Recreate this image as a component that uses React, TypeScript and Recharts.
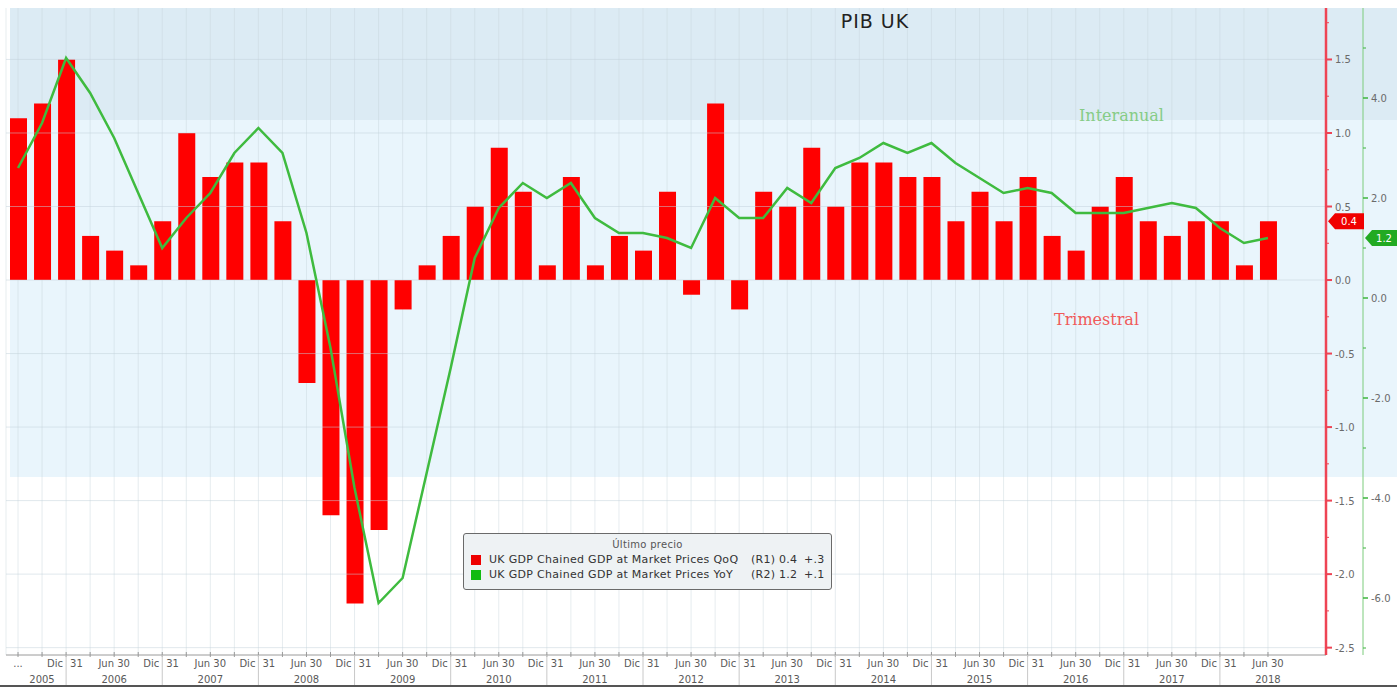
import { ComposedChart, Bar, Line, XAxis, YAxis, ReferenceLine, CartesianGrid } from "recharts"

// quarter-end dates, Jun 2005 .. Jun 2018
const periods = [
  "2005-06", "2005-09", "2005-12",
  "2006-03", "2006-06", "2006-09", "2006-12",
  "2007-03", "2007-06", "2007-09", "2007-12",
  "2008-03", "2008-06", "2008-09", "2008-12",
  "2009-03", "2009-06", "2009-09", "2009-12",
  "2010-03", "2010-06", "2010-09", "2010-12",
  "2011-03", "2011-06", "2011-09", "2011-12",
  "2012-03", "2012-06", "2012-09", "2012-12",
  "2013-03", "2013-06", "2013-09", "2013-12",
  "2014-03", "2014-06", "2014-09", "2014-12",
  "2015-03", "2015-06", "2015-09", "2015-12",
  "2016-03", "2016-06", "2016-09", "2016-12",
  "2017-03", "2017-06", "2017-09", "2017-12",
  "2018-03", "2018-06",
]

// QoQ (R1)
const qoq = [
  1.1, 1.2, 1.5,
  0.3, 0.2, 0.1, 0.4,
  1.0, 0.7, 0.8, 0.8,
  0.4, -0.7, -1.6, -2.2,
  -1.7, -0.2, 0.1, 0.3,
  0.5, 0.9, 0.6, 0.1,
  0.7, 0.1, 0.3, 0.2,
  0.6, -0.1, 1.2, -0.2,
  0.6, 0.5, 0.9, 0.5,
  0.8, 0.8, 0.7, 0.7,
  0.4, 0.6, 0.4, 0.7,
  0.3, 0.2, 0.5, 0.7,
  0.4, 0.3, 0.4, 0.4,
  0.1, 0.4,
]

// YoY (R2)
const yoy = [
  2.6, 3.5, 4.8,
  4.1, 3.2, 2.1, 1.0,
  1.6, 2.1, 2.9, 3.4,
  2.9, 1.3, -1.0, -3.8,
  -6.1, -5.6, -3.5, -1.4,
  0.8, 1.8, 2.3, 2.0,
  2.3, 1.6, 1.3, 1.3,
  1.2, 1.0, 2.0, 1.6,
  1.6, 2.2, 1.9, 2.6,
  2.8, 3.1, 2.9, 3.1,
  2.7, 2.4, 2.1, 2.2,
  2.1, 1.7, 1.7, 1.7,
  1.8, 1.9, 1.8, 1.4,
  1.1, 1.2,
]

const r1Major = [-2.5, -2, -1.5, -1, -0.5, 0, 0.5, 1, 1.5]
const r1Minor = [-2.25, -1.75, -1.25, -0.75, -0.25, 0.25, 0.75, 1.25, 1.75]
const r2Major = [-6, -4, -2, 0, 2, 4]
const r2Minor = [-7, -5, -3, -1, 1, 3, 5]

const lastQoQ = 0.4
const lastYoY = 1.2

const legendRows = [
  { color: "#ee0000", name: "UK GDP Chained GDP at Market Prices QoQ", axis: "(R1)", last: "0.4", chg: "+.3" },
  { color: "#11bb11", name: "UK GDP Chained GDP at Market Prices YoY", axis: "(R2)", last: "1.2", chg: "+.1" },
]

const data = periods.map((p, i) => ({ period: p, qoq: qoq[i], yoy: yoy[i] }))

const FONT = "DejaVu Sans"
const RED_AXIS = "#ee4454"
const GREEN_AXIS = "#7ccc7c"

function PeriodTick({ x, y, payload, index }: any) {
  const [yr, mo] = String(payload.value).split("-")
  const first = index === 0
  return (
    <g fontFamily={FONT} fontSize={10} fill="#5a5a5a">
      <line x1={x} x2={x} y1={y - 3} y2={y + 2} stroke="#9a9a9a" />
      {mo === "06" && (
        <text x={x} y={y + 12} textAnchor="middle">{first ? "..." : "Jun 30"}</text>
      )}
      {mo === "06" && (
        <text x={first ? x + 24 : x} y={y + 28} textAnchor="middle">{yr}</text>
      )}
      {mo === "12" && (
        <g>
          <line x1={x} x2={x} y1={y} y2={y + 31} stroke="#c8c8c8" />
          <text x={x - 3} y={y + 12} textAnchor="end">Dic</text>
          <text x={x + 4} y={y + 12} textAnchor="start">31</text>
        </g>
      )}
    </g>
  )
}

function R1Tick({ x, y, payload }: any) {
  const v = payload.value
  if (v === lastQoQ) {
    return (
      <g>
        <polygon
          points={`${x + 2},${y} ${x + 9},${y - 8} ${x + 38},${y - 8} ${x + 38},${y + 8} ${x + 9},${y + 8}`}
          fill="#f00000"
        />
        <text x={x + 23} y={y + 4} textAnchor="middle" fontFamily={FONT} fontSize={10} fill="#fff">
          {v.toFixed(1)}
        </text>
      </g>
    )
  }
  const major = r1Major.includes(v)
  return (
    <g>
      <line x1={x} x2={x + (major ? 6 : 3)} y1={y} y2={y} stroke={RED_AXIS} strokeWidth={major ? 2 : 1} />
      {major && (
        <text x={x + 9} y={y + 4} fontFamily={FONT} fontSize={10} fill="#6a6a6a">{v.toFixed(1)}</text>
      )}
    </g>
  )
}

function R2Tick({ x, y, payload }: any) {
  const v = payload.value
  if (v === lastYoY) {
    return (
      <g>
        <polygon
          points={`${x + 2},${y} ${x + 9},${y - 8} ${x + 34},${y - 8} ${x + 34},${y + 8} ${x + 9},${y + 8}`}
          fill="#22aa22"
        />
        <text x={x + 21} y={y + 4} textAnchor="middle" fontFamily={FONT} fontSize={10} fill="#fff">
          {v.toFixed(1)}
        </text>
      </g>
    )
  }
  const major = r2Major.includes(v)
  return (
    <g>
      <line x1={x} x2={x + (major ? 5 : 3)} y1={y} y2={y} stroke="#3cb43c" strokeWidth={major ? 1.5 : 1} />
      {major && (
        <text x={x + 8} y={y + 4} fontFamily={FONT} fontSize={10} fill="#6a6a6a">{v.toFixed(1)}</text>
      )}
    </g>
  )
}

export default function App() {
  return (
    <div style={{ position: "absolute", left: 0, top: 0, width: 1397, height: 687, background: "#fff", overflow: "hidden" }}>
      {/* background bands */}
      <div style={{ position: "absolute", left: 10, top: 8, width: 1387, height: 112, background: "#dcebf4" }} />
      <div style={{ position: "absolute", left: 10, top: 120, width: 1387, height: 357, background: "#e9f5fc" }} />

      <div style={{ position: "absolute", left: 0, top: 0 }}>
        <ComposedChart width={1397} height={687} data={data} margin={{ top: 8, right: 0, bottom: 0, left: 6 }}>
          <CartesianGrid yAxisId="r1" horizontal={false} stroke="#c8d4dc" strokeOpacity={0.45} />
          {r1Major.map((v) => (
            <ReferenceLine key={v} yAxisId="r1" y={v} stroke="#c4d2dc" strokeOpacity={0.5} />
          ))}
          <XAxis
            dataKey="period"
            interval={0}
            height={32}
            padding={{ left: 0, right: 46 }}
            tickSize={0}
            tickMargin={0}
            tickLine={false}
            axisLine={{ stroke: "#9a9a9a" }}
            tick={<PeriodTick />}
          />
          <YAxis
            yAxisId="r1"
            orientation="right"
            width={37}
            domain={[-2.55, 1.85]}
            ticks={[...r1Major, ...r1Minor, lastQoQ]}
            interval={0}
            allowDataOverflow
            tickSize={0}
            tickMargin={0}
            tickLine={false}
            axisLine={{ stroke: RED_AXIS, strokeWidth: 2.5 }}
            tick={<R1Tick />}
          />
          <YAxis
            yAxisId="r2"
            orientation="right"
            width={34}
            domain={[-7.14, 5.8]}
            ticks={[...r2Major, ...r2Minor, lastYoY]}
            interval={0}
            allowDataOverflow
            tickSize={0}
            tickMargin={0}
            tickLine={false}
            axisLine={{ stroke: GREEN_AXIS }}
            tick={<R2Tick />}
          />
          <Bar yAxisId="r1" dataKey="qoq" fill="#ff0000" barSize={17} isAnimationActive={false} />
          <Line
            yAxisId="r2"
            dataKey="yoy"
            type="linear"
            stroke="#3fbb3f"
            strokeWidth={2.5}
            dot={false}
            isAnimationActive={false}
          />
        </ComposedChart>
      </div>

      {/* title + annotations */}
      <div style={{ position: "absolute", left: 775, top: 10, width: 200, textAlign: "center", fontFamily: FONT, fontSize: 19, letterSpacing: 1, color: "#222" }}>
        PIB UK
      </div>
      <div style={{ position: "absolute", left: 1079, top: 106, fontFamily: "DejaVu Serif", fontSize: 16, color: "#86cc86" }}>
        Interanual
      </div>
      <div style={{ position: "absolute", left: 1054, top: 310, fontFamily: "DejaVu Serif", fontSize: 16, color: "#f05a5a" }}>
        Trimestral
      </div>

      {/* legend */}
      <div
        style={{
          position: "absolute",
          left: 463,
          top: 533,
          width: 369,
          height: 57,
          border: "1px solid #6a6a6a",
          borderRadius: 3,
          background: "#eef2f4",
          fontFamily: FONT,
          fontSize: 11,
          letterSpacing: 0.3,
          color: "#333",
          boxSizing: "border-box",
        }}
      >
        <div style={{ textAlign: "center", marginTop: 4, lineHeight: "13px", color: "#555", fontSize: 10 }}>Último precio</div>
        {legendRows.map((row) => (
          <div key={row.axis} style={{ display: "flex", alignItems: "center", marginLeft: 7, marginTop: 2, lineHeight: "13px", whiteSpace: "nowrap" }}>
            <span style={{ display: "inline-block", width: 10, height: 10, background: row.color, marginRight: 8 }} />
            <span style={{ width: 262 }}>{row.name}</span>
            <span style={{ width: 28 }}>{row.axis}</span>
            <span style={{ width: 25 }}>{row.last}</span>
            <span>{row.chg}</span>
          </div>
        ))}
      </div>

      <div style={{ position: "absolute", left: 0, top: 685, width: 1397, height: 2, background: "#555" }} />
    </div>
  )
}
